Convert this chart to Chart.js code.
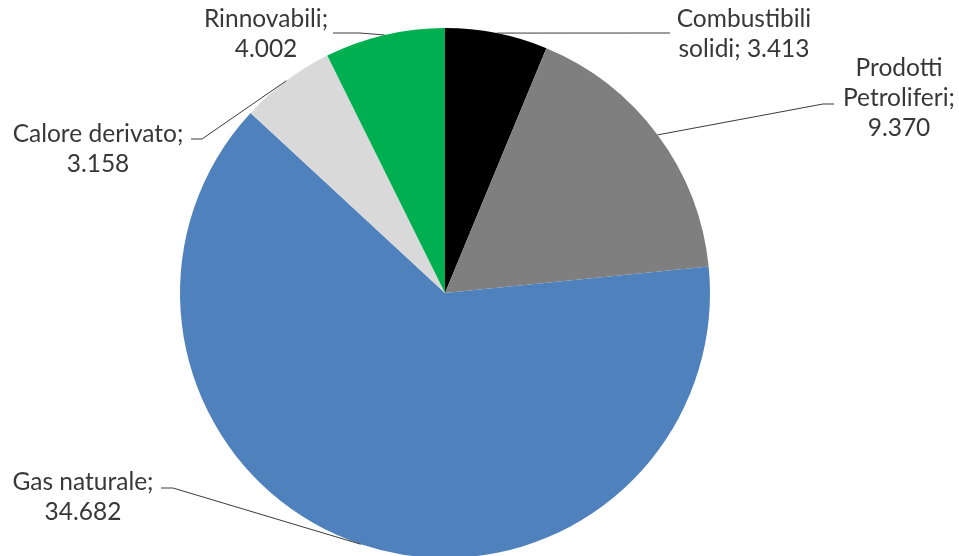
<!DOCTYPE html>
<html lang="it">
<head>
<meta charset="utf-8">
<title>Consumi per fonte</title>
<script src="https://cdn.jsdelivr.net/npm/chart.js@4/dist/chart.umd.min.js"></script>
<style>
    html, body { margin: 0; padding: 0; background: #ffffff; overflow: hidden; }
    #wrap { position: relative; width: 959px; height: 600px; }
</style>
</head>
<body>
<div id="wrap"><canvas id="pieChart"></canvas></div>
<script>
// Categories and values (ktep)
const categories = ['Combustibili solidi', 'Prodotti Petroliferi', 'Gas naturale', 'Calore derivato', 'Rinnovabili'];
const values = [3413, 9370, 34682, 3158, 4002];
const sliceColors = ['#000000', '#7f7f7f', '#4f81bd', '#d9d9d9', '#00b050'];

// Where each data label sits: text centre x, first baseline y, line breaks,
// and the leader line points that follow the slice edge point
const labelLayout = [
    { x: 744, y: 27, lines: ['Combustibili', 'solidi; {v}'], leader: [[670, 33]] },
    { x: 899, y: 76, lines: ['Prodotti', 'Petroliferi;', '{v}'], leader: [[823, 104], [834, 104]] },
    { x: 83, y: 490, lines: ['Gas naturale;', '{v}'], leader: [[173, 488], [161, 488]] },
    { x: 98, y: 142, lines: ['Calore derivato;', '{v}'], leader: [[202, 139], [191, 139]] },
    { x: 266, y: 27, lines: ['Rinnovabili;', '{v}'], leader: [[360, 33], [333, 33]] }
];

// Italian style thousands separator
function formatValue(v) {
    return String(v).replace(/\B(?=(\d{3})+(?!\d))/g, '.');
}

// Draws the labels and their leader lines after the slices
const pieLabels = {
    id: 'pieLabels',
    afterDraw(chart) {
        const ctx = chart.ctx;
        const meta = chart.getDatasetMeta(0);
        ctx.save();
        meta.data.forEach((arc, i) => {
            const p = arc.getProps(['x', 'y', 'startAngle', 'endAngle', 'outerRadius'], true);
            const mid = (p.startAngle + p.endAngle) / 2;
            const ex = p.x + Math.cos(mid) * p.outerRadius;
            const ey = p.y + Math.sin(mid) * p.outerRadius;
            const lay = labelLayout[i];

            ctx.strokeStyle = '#3a3a3a';
            ctx.lineWidth = 1;
            ctx.beginPath();
            ctx.moveTo(ex, ey);
            lay.leader.forEach(pt => ctx.lineTo(pt[0], pt[1]));
            ctx.stroke();

            ctx.fillStyle = '#383838';
            ctx.font = '24.5px Lato, "Open Sans", sans-serif';
            ctx.textAlign = 'center';
            ctx.textBaseline = 'alphabetic';
            lay.lines.forEach((line, k) => {
                const txt = line.replace('{v}', formatValue(values[i]));
                ctx.fillText(txt, lay.x, lay.y + k * 30);
            });
        });
        ctx.restore();
    }
};

new Chart(document.getElementById('pieChart'), {
    type: 'pie',
    data: {
        labels: categories,
        datasets: [{
            data: values,
            backgroundColor: sliceColors,
            borderWidth: 0
        }]
    },
    options: {
        responsive: true,
        maintainAspectRatio: false,
        animation: false,
        layout: { padding: { top: 28, left: 180, right: 249, bottom: 42 } },
        plugins: {
            legend: { display: false },
            tooltip: { enabled: false }
        }
    },
    plugins: [pieLabels]
});
</script>
</body>
</html>
